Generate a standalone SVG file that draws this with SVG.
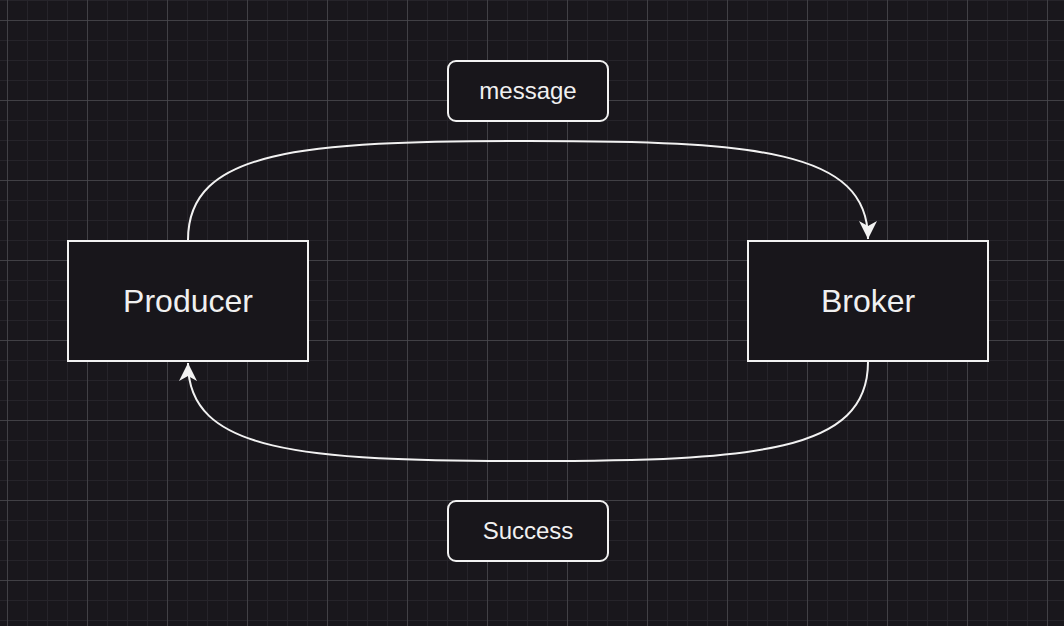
<svg xmlns="http://www.w3.org/2000/svg" width="1064" height="626" viewBox="0 0 1064 626">
  <defs>
    <pattern id="minor" x="7" y="0" width="20" height="20" patternUnits="userSpaceOnUse">
      <path d="M0 0H20M0 0V20" fill="none" stroke="#26242a" stroke-width="2"/>
    </pattern>
    <pattern id="major" x="7" y="20" width="80" height="80" patternUnits="userSpaceOnUse">
      <path d="M0 0H80M0 0V80" fill="none" stroke="#4a494e" stroke-width="1.5"/>
    </pattern>
    <marker id="arrow" viewBox="0 0 20 20" refX="18" refY="10" markerWidth="20" markerHeight="20" markerUnits="userSpaceOnUse" orient="auto">
      <path d="M0 1 L18 10 L0 19 L5 10 Z" fill="#f2f2f2"/>
    </marker>
    <style>
      .node{fill:#18161b;stroke:#f2f2f2;stroke-width:2}
      .big{font-family:"Liberation Sans",Arial,sans-serif;font-size:32px;fill:#f0f0f0;text-anchor:middle}
      .lbl{font-family:"Liberation Sans",Arial,sans-serif;font-size:24px;fill:#f0f0f0;text-anchor:middle}
      .edge{fill:none;stroke:#f2f2f2;stroke-width:2}
    </style>
  </defs>
  <rect width="1064" height="626" fill="#19171c"/>
  <rect width="1064" height="626" fill="url(#minor)"/>
  <rect width="1064" height="626" fill="url(#major)"/>

  <g id="connectors">
    <path class="edge" d="M188 240 C188 150 300 141 528 141 C756 141 868 150 868 239" marker-end="url(#arrow)"/>
    <path class="edge" d="M868 362 C868 452 756 461 528 461 C300 461 188 452 188 363" marker-end="url(#arrow)"/>
  </g>

  <g id="producer">
    <rect class="node" x="68" y="241" width="240" height="120"/>
    <text class="big" x="188" y="312">Producer</text>
  </g>
  <g id="broker">
    <rect class="node" x="748" y="241" width="240" height="120"/>
    <text class="big" x="868" y="312">Broker</text>
  </g>
  <g id="message">
    <rect class="node" x="448" y="61" width="160" height="60" rx="8"/>
    <text class="lbl" x="528" y="99">message</text>
  </g>
  <g id="success">
    <rect class="node" x="448" y="501" width="160" height="60" rx="8"/>
    <text class="lbl" x="528" y="539">Success</text>
  </g>
</svg>
